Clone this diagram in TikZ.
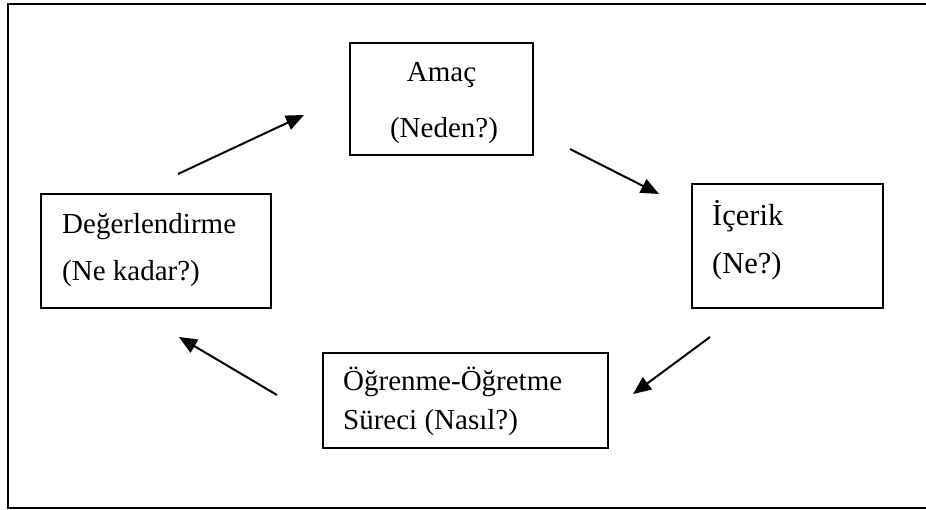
\documentclass[tikz,border=0pt]{standalone}
\usepackage{fontspec}
\setmainfont{Liberation Serif}
\usetikzlibrary{arrows.meta}
\begin{document}
\begin{tikzpicture}[x=1pt,y=-1pt,
  frameline/.style={line width=2pt},
  stage/.style={draw,line width=1.4pt},
  lbl/.style={anchor=base west,inner sep=0pt,font=\fontsize{29}{32}\selectfont},
  clbl/.style={anchor=base,inner sep=0pt,font=\fontsize{29}{32}\selectfont},
  flow/.style={line width=2pt,-{Triangle[length=18pt,width=15pt]}}]
\useasboundingbox (0,0) rectangle (926,509);
% outer frame (right side runs off the page)
\draw[frameline] (940,4) -- (7.5,4) -- (7.5,507.5) -- (940,507.5);

% stage boxes
\draw[stage] (350,43) rectangle (533,155);
\node[clbl] (amac1) at (441.5,81) {Amaç};
\node[clbl] (amac2) at (444,137) {(Neden?)};

\draw[stage] (692,184) rectangle (883,308);
\node[lbl,font=\fontsize{30.5}{33}\selectfont] (icerik1) at (712,225) {İçerik};
\node[lbl,font=\fontsize{30.5}{33}\selectfont] (icerik2) at (712,273) {(Ne?)};

\draw[stage] (323,353) rectangle (608,448);
\node[lbl] (surec1) at (343,390) {Öğrenme-Öğretme};
\node[lbl] (surec2) at (343,429) {Süreci (Nasıl?)};

\draw[stage] (41,194) rectangle (271,308);
\node[lbl] (deger1) at (62,233) {Değerlendirme};
\node[lbl] (deger2) at (62,280) {(Ne kadar?)};

% cycle arrows
\coordinate (a1s) at (178,174);  \coordinate (a1e) at (304,115);
\coordinate (a2s) at (570,149);  \coordinate (a2e) at (659,194);
\coordinate (a3s) at (710,337);  \coordinate (a3e) at (633,394);
\coordinate (a4s) at (277,395);  \coordinate (a4e) at (179,337);
\draw[flow] (a1s) -- (a1e);
\draw[flow] (a2s) -- (a2e);
\draw[flow] (a3s) -- (a3e);
\draw[flow] (a4s) -- (a4e);
\end{tikzpicture}
\end{document}
